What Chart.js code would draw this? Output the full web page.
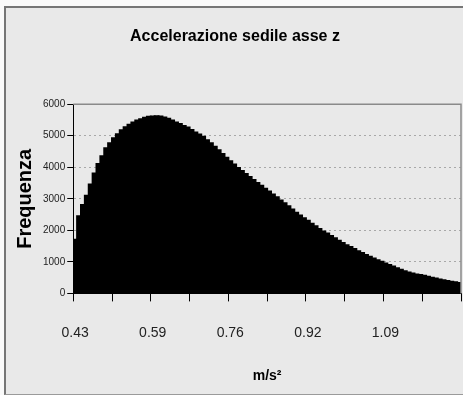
<!DOCTYPE html>
<html>
<head>
<meta charset="utf-8">
<script src="https://cdn.jsdelivr.net/npm/chart.js@4/dist/chart.umd.min.js"></script>
<style>
  html, body { margin: 0; padding: 0; background: #fafafa; overflow: hidden; width: 463px; height: 395px; }
  #frame {
    position: absolute; left: 4px; top: 6px; width: 457px; height: 386px;
    background: #e9e9e9;
    border-left: 2px solid #767676; border-top: 2px solid #767676; border-bottom: 1px solid #9a9a9a;
  }
  #chart { position: absolute; left: 0; top: 0; }
</style>
</head>
<body>
<div id="frame"></div>
<canvas id="chart" width="463" height="395"></canvas>
<script>
// frequenze per classe (100 classi)
const frequenza = [
    1700, 2450, 2800, 3100, 3450, 3800, 4100, 4350, 4600, 4760,
    4920, 5050, 5170, 5270, 5350, 5420, 5480, 5520, 5570, 5600,
    5610, 5620, 5610, 5580, 5540, 5480, 5420, 5370, 5310, 5260,
    5180, 5100, 5040, 4970, 4860, 4760, 4650, 4540, 4420, 4300,
    4190, 4090, 3980, 3880, 3790, 3690, 3600, 3500, 3410, 3320,
    3230, 3140, 3050, 2950, 2860, 2760, 2660, 2560, 2470, 2380,
    2300, 2210, 2130, 2040, 1960, 1900, 1820, 1750, 1670, 1600,
    1530, 1470, 1410, 1340, 1280, 1220, 1160, 1110, 1050, 1000,
    950, 900, 850, 800, 750, 700, 660, 630, 600, 580,
    560, 530, 500, 470, 440, 420, 390, 370, 350, 330
];
const xTickLabels = ['0.43', '0.59', '0.76', '0.92', '1.09'];
const yTicks = [0, 1000, 2000, 3000, 4000, 5000, 6000];

const categorie = frequenza.map((_, i) => (i % 20 === 0 ? xTickLabels[i / 20] : ''));

const FONT = "'Liberation Sans', Arial, sans-serif";

const plotBorder = {
    id: 'plotBorder',
    afterDatasetsDraw(chart) {
        const { ctx, chartArea: a } = chart;
        ctx.save();
        ctx.strokeStyle = '#8a8a8a';
        ctx.lineWidth = 1.5;
        ctx.beginPath();
        ctx.moveTo(a.left, a.top);
        ctx.lineTo(a.right, a.top);
        ctx.lineTo(a.right, a.bottom);
        ctx.stroke();
        ctx.restore();
    }
};

new Chart(document.getElementById('chart').getContext('2d'), {
    type: 'bar',
    data: {
        labels: categorie,
        datasets: [{
            label: 'Frequenza',
            data: frequenza,
            backgroundColor: '#000',
            borderWidth: 0,
            inflateAmount: 1,
            barPercentage: 1,
            categoryPercentage: 1
        }]
    },
    options: {
        responsive: false,
        animation: false,
        layout: { padding: { left: 9, right: 2, top: 0, bottom: 10 } },
        plugins: {
            legend: { display: false },
            tooltip: { enabled: false },
            title: {
                display: true,
                text: 'Accelerazione sedile asse z',
                color: '#000',
                font: { family: FONT, size: 16, weight: 'bold' },
                padding: { top: 27, bottom: 58 }
            }
        },
        scales: {
            x: {
                offset: true,
                grid: {
                    offset: true,
                    drawOnChartArea: false,
                    drawTicks: true,
                    tickLength: 8,
                    tickColor: (c) => (c.index === undefined || c.index % 10 === 0 ? '#000' : 'rgba(0,0,0,0)')
                },
                border: { color: '#000', width: 1 },
                afterFit: (scale) => { scale.paddingLeft = 0; scale.paddingRight = 0; },
                ticks: {
                    autoSkip: false,
                    maxRotation: 0,
                    minRotation: 0,
                    color: '#222',
                    padding: 23,
                    font: { family: FONT, size: 14 }
                },
                title: {
                    display: true,
                    text: 'm/s²',
                    color: '#000',
                    font: { family: FONT, size: 14, weight: 'bold' },
                    padding: { top: 4, bottom: 0 }
                }
            },
            y: {
                min: yTicks[0],
                max: yTicks[yTicks.length - 1],
                grid: {
                    color: (c) => (c.tick && c.tick.value > 0 && c.tick.value < 6000 ? '#a8a8a8' : 'rgba(0,0,0,0)'),
                    tickColor: '#000',
                    tickLength: 6
                },
                border: { color: '#000', width: 1, dash: [2, 3] },
                afterBuildTicks: (scale) => { scale.ticks = yTicks.map(v => ({ value: v })); },
                ticks: {
                    color: '#222',
                    padding: 2,
                    font: { family: FONT, size: 10 },
                    callback: (v) => String(v)
                },
                title: {
                    display: true,
                    text: 'Frequenza',
                    color: '#000',
                    font: { family: FONT, size: 20, weight: 'bold' },
                    padding: { top: 4, bottom: 4 }
                }
            }
        }
    },
    plugins: [plotBorder]
});
</script>
</body>
</html>
